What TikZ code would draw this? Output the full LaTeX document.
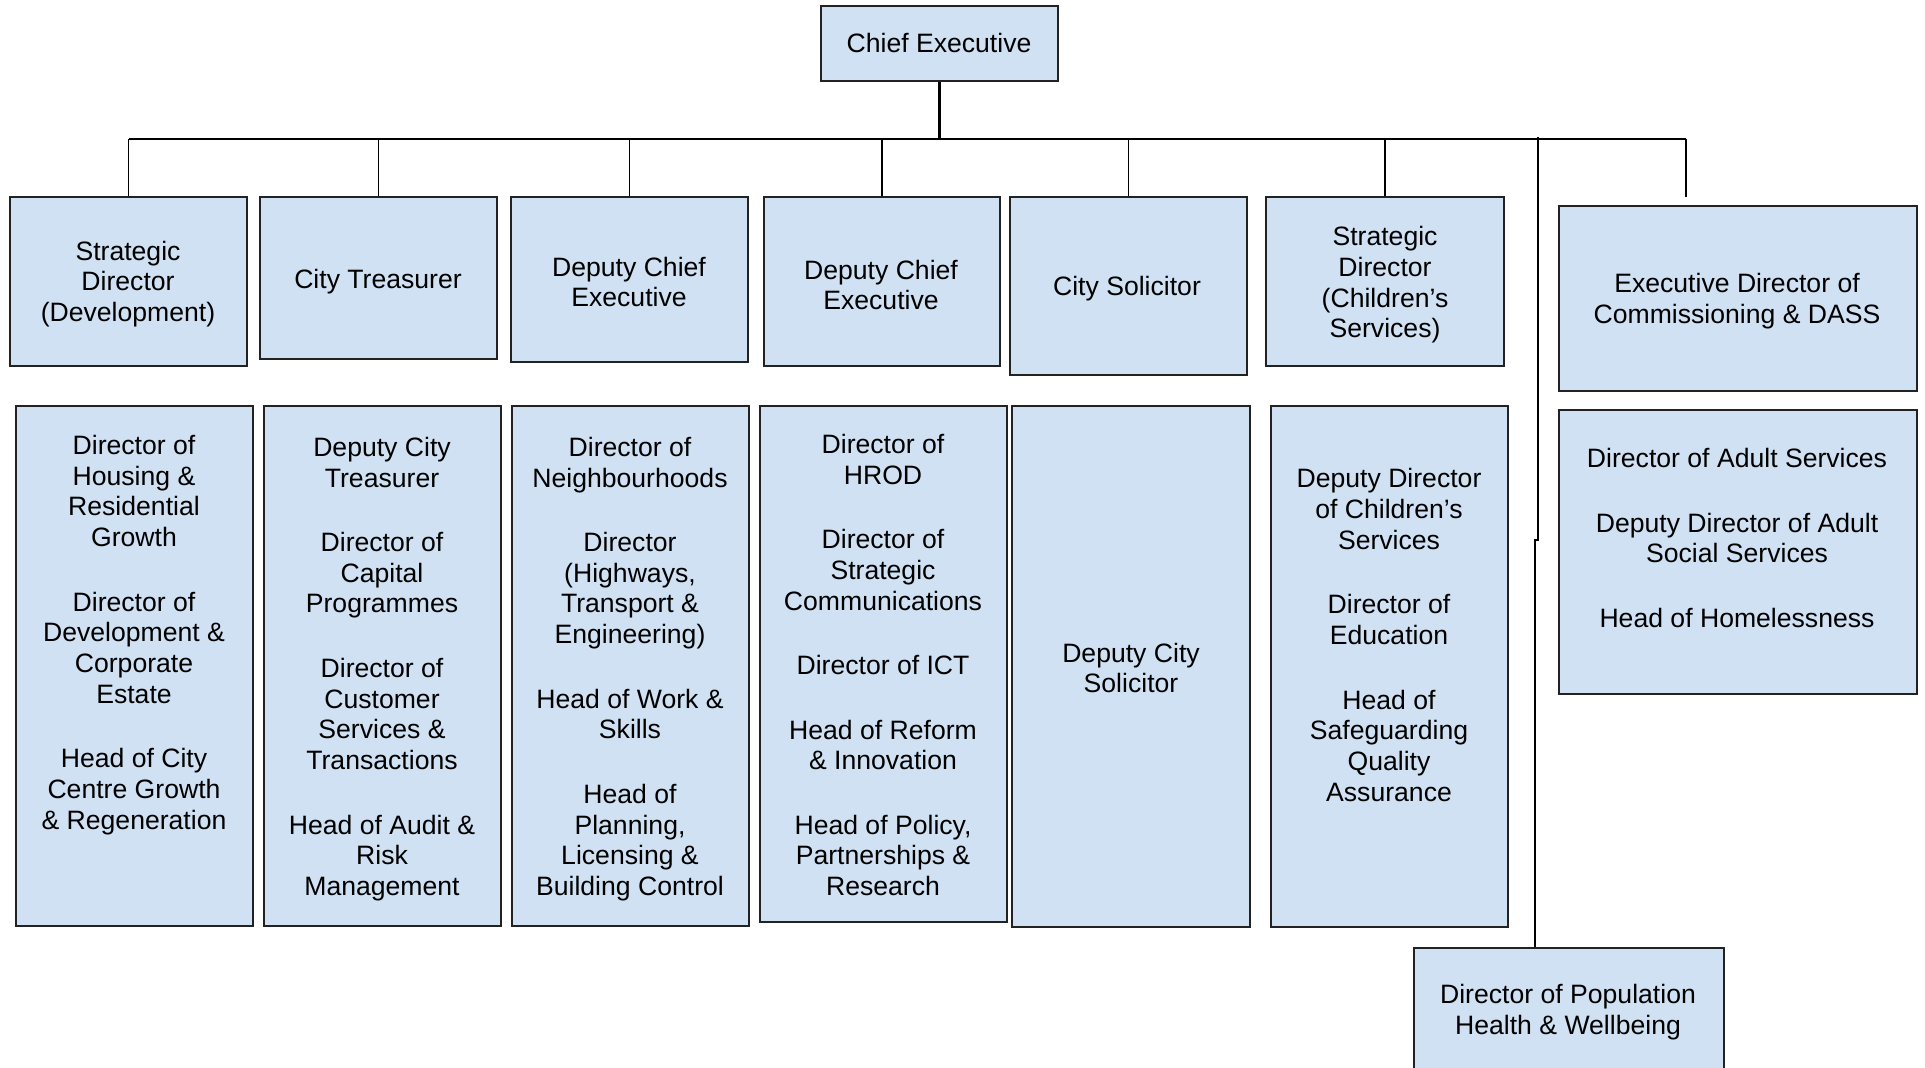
\documentclass[tikz,border=0pt]{standalone}
\usepackage{fontspec}
\setmainfont{Liberation Sans}
\usetikzlibrary{calc}

\definecolor{boxfill}{HTML}{CFE1F2}
\definecolor{boxline}{HTML}{222222}

\tikzset{
  orgbox/.style={draw=boxline, fill=boxfill, line width=0.95pt, inner sep=0pt},
  txt/.style={align=center, inner sep=0pt, text=black, yshift=-1.5pt,
    font=\fontsize{13.3}{15.35}\selectfont},
  conn/.style={draw=black, line width=0.95pt},
  thinconn/.style={draw=black, line width=0.6pt},
  bus/.style={draw=black, line width=1.3pt},
}

% box from its corner coordinates: name, x1, y1, x2, y2
\newcommand\orgbox[5]{%
  \node[orgbox, minimum width={(#4-#2)*0.5pt}, minimum height={(#5-#3)*0.5pt}]
    (#1) at ({(#2+#4)/2},{(#3+#5)/2}) {};}
\newcommand\gap{\\[16.9pt]}

\begin{document}
\begin{tikzpicture}[x=0.5pt, y=-0.5pt]
\useasboundingbox (0,0) rectangle (1925,1067);
\clip (0,0) rectangle (1925,1067);
\fill[white] (0,0) rectangle (1925,1067);

% top post
\orgbox{ce}{821}{6}{1058}{81}
\node[txt] (t-ce) at (939,40) {Chief Executive};

% second tier
\orgbox{sd}{10}{197}{247}{366}
\orgbox{ct}{260}{197}{497}{359}
\orgbox{dca}{511}{197}{748}{362}
\orgbox{dcb}{764}{197}{1000}{366}
\orgbox{cs}{1010}{197}{1247}{375}
\orgbox{sdc}{1266}{197}{1504}{366}
\orgbox{ed}{1559}{206}{1917}{391}

\node[txt] (t-sd)  at (128,281)  {Strategic\\Director\\(Development)};
\node[txt] (t-ct)  at (378,279)  {City Treasurer};
\node[txt] (t-dca) at (629,279)  {Deputy Chief\\Executive};
\node[txt] (t-dcb) at (881,282)  {Deputy Chief\\Executive};
\node[txt] (t-cs)  at (1127,286) {City Solicitor};
\node[txt] (t-sdc) at (1385,282) {Strategic\\Director\\(Children’s\\Services)};
\node[txt] (t-ed)  at (1737,298) {Executive Director of\\Commissioning \& DASS};

% third tier
\orgbox{la}{16}{406}{253}{926}
\orgbox{lb}{264}{406}{501}{926}
\orgbox{lc}{512}{406}{749}{926}
\orgbox{ld}{760}{406}{1007}{922}
\orgbox{le}{1012}{406}{1250}{927}
\orgbox{lf}{1271}{406}{1508}{927}
\orgbox{lg}{1559}{410}{1917}{694}
\orgbox{ph}{1414}{948}{1724}{1110}

\node[txt] (t-la) at (134,632) {Director of\\Housing \&\\Residential\\Growth\gap
  Director of\\Development \&\\Corporate\\Estate\gap
  Head of City\\Centre Growth\\\& Regeneration};
\node[txt] (t-lb) at (382,666) {Deputy City\\Treasurer\gap
  Director of\\Capital\\Programmes\gap
  Director of\\Customer\\Services \&\\Transactions\gap
  Head of Audit \&\\Risk\\Management};
\node[txt] (t-lc) at (630,666) {Director of\\Neighbourhoods\gap
  Director\\(Highways,\\Transport \&\\Engineering)\gap
  Head of Work \&\\Skills\gap
  Head of\\Planning,\\Licensing \&\\Building Control};
\node[txt] (t-ld) at (883,662) {Director of\\HROD\gap
  Director of\\Strategic\\Communications\gap
  Director of ICT\gap
  Head of Reform\\\& Innovation\gap
  Head of Policy,\\Partnerships \&\\Research};
\node[txt] (t-le) at (1131,665) {Deputy City\\Solicitor};
\node[txt] (t-lf) at (1389,632) {Deputy Director\\of Children’s\\Services\gap
  Director of\\Education\gap
  Head of\\Safeguarding\\Quality\\Assurance};
\node[txt] (t-lg) at (1737,535) {Director of Adult Services\gap
  Deputy Director of Adult\\Social Services\gap
  Head of Homelessness};
\node[txt] (t-ph) at (1568,1009) {Director of Population\\Health \& Wellbeing};

% reporting lines
\coordinate (busL) at (129,139);
\coordinate (busR) at (1686,139);
\coordinate (edtop) at (1686,197);
\coordinate (phtop) at (1538,137);
\coordinate (phjog) at (1538,540);
\coordinate (phx) at (1535,0);

\draw[bus] (busL) -- (busR);
\draw[bus] (ce.south) -- (ce.south |- busL);
\foreach \b in {sd,ct,cs,sdc}
  \draw[conn] (\b.north) -- (\b.north |- busL);
\foreach \b in {dca,dcb}
  \draw[thinconn] (\b.north) -- (\b.north |- busL);
\draw[conn] (edtop) -- (busR);
\draw[conn] (phtop) -- (phjog) -- (phjog -| phx) -- (phx |- ph.north);
\end{tikzpicture}
\end{document}
